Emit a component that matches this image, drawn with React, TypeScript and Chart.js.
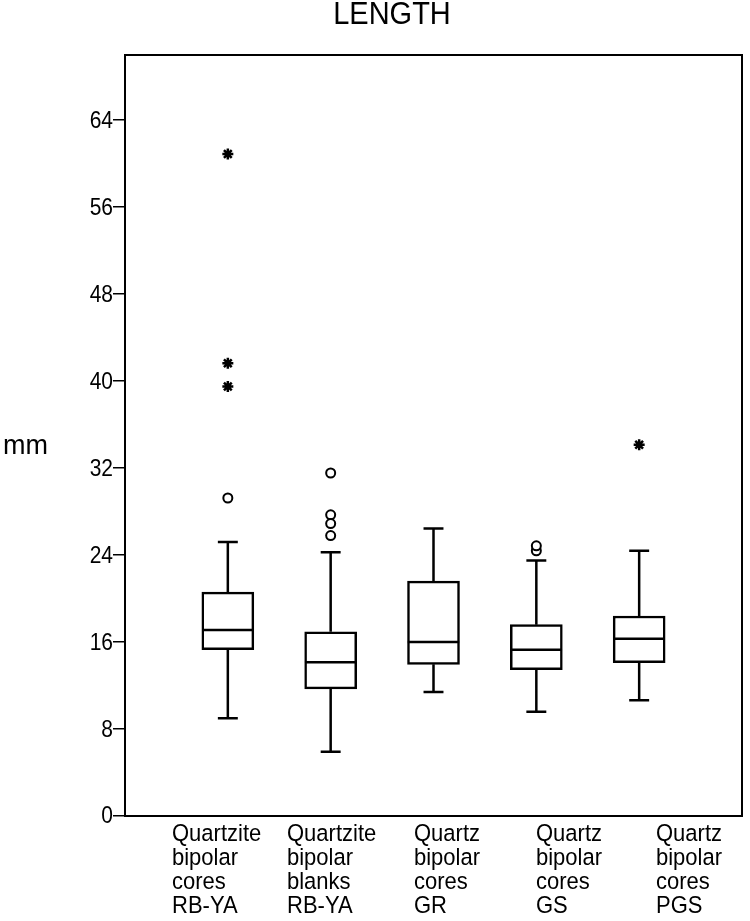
import React, { useEffect, useRef } from "react";
import { Chart, registerables } from "chart.js";

Chart.register(...registerables);

// ---- data ----
const titleText = "LENGTH";
const yAxisTitle = "mm";
const categories: string[][] = [
  ["Quartzite", "bipolar", "cores", "RB-YA"],
  ["Quartzite", "bipolar", "blanks", "RB-YA"],
  ["Quartz", "bipolar", "cores", "GR"],
  ["Quartz", "bipolar", "cores", "GS"],
  ["Quartz", "bipolar", "cores", "PGS"],
];
const positions = [1, 2, 3, 4, 5];
const lowerWhisker = [9.0, 5.9, 11.4, 9.6, 10.65];
const q1 = [15.3, 11.7, 13.95, 13.45, 14.1];
const median = [17.1, 14.15, 16.0, 15.3, 16.3];
const q3 = [20.6, 16.95, 21.6, 17.6, 18.4];
const upperWhisker = [25.2, 24.25, 26.45, 23.5, 24.4];
const circleOutliers: number[][] = [[29.25], [31.55, 27.7, 26.9, 25.8], [], [24.4, 24.85], []];
const starOutliers: number[][] = [[60.9, 41.65, 39.5], [], [], [], [34.15]];
const yTicks = [0, 8, 16, 24, 32, 40, 48, 56, 64];
const yMin = 0;
const yMax = 70;
const xMin = 0;
const xMax = 6;

// ---- styling / layout ----
const FONT = '"Liberation Sans", Arial, sans-serif';
const capHalf = 0.097; // whisker cap half width in x units
const boxHalf = 0.25; // median half width in x units
const labelLeft = [172, 287, 414, 536, 656];
const labelTop = 834;
const labelLine = 24;
const LW = 2.5;

function buildSegments() {
  const whiskers: any[] = [];
  const medians: any[] = [];
  positions.forEach((x, i) => {
    whiskers.push({ x, y: q3[i] }, { x, y: upperWhisker[i] }, { x, y: null });
    whiskers.push({ x, y: q1[i] }, { x, y: lowerWhisker[i] }, { x, y: null });
    whiskers.push({ x: x - capHalf, y: upperWhisker[i] }, { x: x + capHalf, y: upperWhisker[i] }, { x, y: null });
    whiskers.push({ x: x - capHalf, y: lowerWhisker[i] }, { x: x + capHalf, y: lowerWhisker[i] }, { x, y: null });
    medians.push({ x: x - boxHalf, y: median[i] }, { x: x + boxHalf, y: median[i] }, { x, y: null });
  });
  return { whiskers, medians };
}

function stretchedText(ctx: CanvasRenderingContext2D, text: string, x: number, y: number, k: number) {
  ctx.save();
  ctx.translate(x, y);
  ctx.scale(1, k);
  ctx.fillText(text, 0, 0);
  ctx.restore();
}

const framePlugin = {
  id: "frameAndText",
  afterDatasetsDraw(chart: any) {
    const { ctx, chartArea } = chart;
    ctx.save();
    ctx.strokeStyle = "#000";
    ctx.lineWidth = 2;
    ctx.strokeRect(chartArea.left, chartArea.top, chartArea.right - chartArea.left, chartArea.bottom - chartArea.top);
    ctx.restore();
  },
  afterDraw(chart: any) {
    const { ctx, scales } = chart;
    const yScale = scales.y;
    ctx.save();
    ctx.fillStyle = "#000";
    ctx.textBaseline = "middle";
    ctx.textAlign = "center";
    ctx.font = `29px ${FONT}`;
    stretchedText(ctx, titleText, 392, 15, 1.08);
    ctx.textAlign = "left";
    ctx.font = `27px ${FONT}`;
    stretchedText(ctx, yAxisTitle, 3, 446, 1.05);
    ctx.font = `22px ${FONT}`;
    categories.forEach((lines, i) => {
      lines.forEach((t, j) => {
        stretchedText(ctx, t, labelLeft[i], labelTop + j * labelLine, 1.08);
      });
    });
    // y tick labels, placed through the y scale
    ctx.textAlign = "right";
    ctx.font = `21px ${FONT}`;
    yTicks.forEach((v) => {
      const py = yScale.getPixelForValue(v);
      stretchedText(ctx, String(v), yScale.right - 12, py + 1, 1.12);
    });
    ctx.restore();
  },
};

export default function App() {
  const ref = useRef<HTMLCanvasElement | null>(null);
  useEffect(() => {
    if (!ref.current) return;
    const { whiskers, medians } = buildSegments();
    const circles: any[] = [];
    const stars: any[] = [];
    positions.forEach((x, i) => {
      circleOutliers[i].forEach((y) => circles.push({ x, y }));
      starOutliers[i].forEach((y) => stars.push({ x, y }));
    });
    const chart = new Chart(ref.current, {
      type: "scatter",
      data: {
        datasets: [
          {
            type: "bar",
            data: positions.map((x, i) => ({ x, y: [q1[i], q3[i]] })) as any,
            backgroundColor: "#fff",
            borderColor: "#000",
            borderWidth: LW,
            borderSkipped: false,
            barThickness: 52,
            order: 3,
          } as any,
          {
            type: "line",
            data: whiskers,
            borderColor: "#000",
            borderWidth: LW,
            pointRadius: 0,
            showLine: true,
            spanGaps: false,
            order: 2,
          } as any,
          {
            type: "line",
            data: medians,
            borderColor: "#000",
            borderWidth: LW,
            pointRadius: 0,
            showLine: true,
            spanGaps: false,
            order: 1,
          } as any,
          {
            type: "scatter",
            data: circles,
            pointStyle: "circle",
            pointRadius: 4.5,
            pointBackgroundColor: "#fff",
            pointBorderColor: "#000",
            pointBorderWidth: 2,
            order: 0,
          } as any,
          {
            type: "scatter",
            data: stars,
            pointStyle: "star",
            pointRadius: 5.5,
            pointBorderColor: "#000",
            pointBackgroundColor: "#000",
            pointBorderWidth: 2.5,
            order: 0,
          } as any,
        ],
      },
      options: {
        animation: false,
        responsive: false,
        devicePixelRatio: 1,
        layout: { padding: { left: 0, top: 55, right: 5, bottom: 105 } },
        plugins: { legend: { display: false }, tooltip: { enabled: false }, title: { display: false } },
        scales: {
          x: {
            type: "linear",
            min: xMin,
            max: xMax,
            offset: false,
            display: false,
          },
          y: {
            type: "linear",
            min: yMin,
            max: yMax,
            afterFit: (axis: any) => {
              axis.width = 125;
            },
            afterBuildTicks: (axis: any) => {
              axis.ticks = yTicks.map((v) => ({ value: v }));
            },
            ticks: {
              display: false,
            },
            grid: {
              drawOnChartArea: false,
              drawTicks: true,
              tickLength: 12,
              color: "#000",
              lineWidth: 1.5,
            },
            border: { display: false },
          },
        },
      } as any,
      plugins: [framePlugin],
    });
    return () => chart.destroy();
  }, []);
  return (
    <div style={{ position: "absolute", left: 0, top: 0, width: 750, height: 921, background: "#fff" }}>
      <canvas ref={ref} width={750} height={921} style={{ width: 750, height: 921 }} />
    </div>
  );
}
